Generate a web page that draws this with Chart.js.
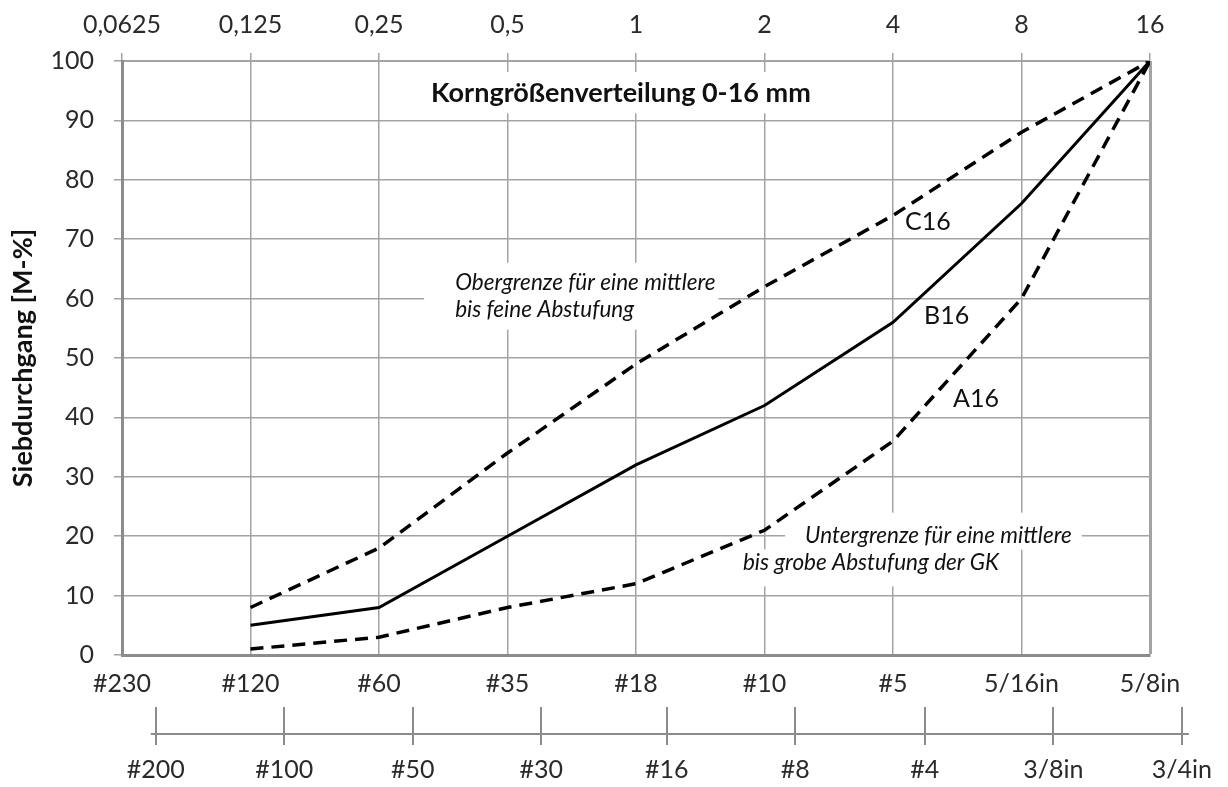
<!DOCTYPE html>
<html>
<head>
<meta charset="utf-8">
<script src="https://cdn.jsdelivr.net/npm/chart.js@4.4.0/dist/chart.umd.min.js"></script>
<style>
  body { margin: 0; background: #fff; }
</style>
</head>
<body>
<canvas id="sieveChart" width="1228" height="787"></canvas>
<script>
// sieve openings in mm (top axis) and the matching mesh names (first bottom row)
const mmTicks = [0.0625, 0.125, 0.25, 0.5, 1, 2, 4, 8, 16];
const mmLabels = ['0,0625', '0,125', '0,25', '0,5', '1', '2', '4', '8', '16'];
const meshLabels = ['#230', '#120', '#60', '#35', '#18', '#10', '#5', '5/16in', '5/8in'];

// ASTM sieves for the second bottom row
const astmMm = [0.075, 0.15, 0.3, 0.6, 1.18, 2.36, 4.75, 9.5, 19];
const astmLabels = ['#200', '#100', '#50', '#30', '#16', '#8', '#4', '3/8in', '3/4in'];

// grading curves (passing in M-%)
const sieves = [0.125, 0.25, 0.5, 1, 2, 4, 8, 16];
const a16 = [1, 3, 8, 12, 21, 36, 60, 100];
const b16 = [5, 8, 20, 32, 42, 56, 76, 100];
const c16 = [8, 18, 34, 49, 62, 74, 88, 100];

const gridGray = '#a3a3a3';
const axisGray = '#8c8c8c';
const textGray = '#2a2a2a';

Chart.defaults.font.family = 'Lato';

// text notes, placed in data units (mm / %)
const notes = [
  { lines: ['Korngrößenverteilung 0-16 mm'], x: 0.922, y: 94.6, style: 'bold', size: 27, align: 'center', pad: [8, 8, 5, 4] },
  { lines: ['Obergrenze für eine mittlere', 'bis feine Abstufung'], x: 0.377, y: 62.6, style: 'italic', size: 22.5, align: 'left', gap: 27, pad: [31, 3, 7, 6] },
  { lines: ['Untergrenze für eine mittlere'], x: 2.49, y: 20.0, style: 'italic', size: 22.5, align: 'left', pad: [20, 10, 10, 0] },
  { lines: ['bis grobe Abstufung der GK'], x: 1.78, y: 15.5, style: 'italic', size: 22.5, align: 'left', pad: [8, 5, 0, 10] },
  { lines: ['C16'], x: 4.27, y: 72.9, style: '', size: 25, align: 'left' },
  { lines: ['B16'], x: 4.73, y: 57.1, style: '', size: 25, align: 'left' },
  { lines: ['A16'], x: 5.53, y: 43.1, style: '', size: 25, align: 'left' }
];

const notesPlugin = {
  id: 'notes',
  beforeDatasetsDraw(chart) {
    const { ctx, scales: { x, y } } = chart;
    notes.forEach(n => {
      ctx.save();
      ctx.font = `${n.style} ${n.size}px Lato`;
      const lh = n.size * 1.2;
      const gap = n.gap || lh;
      const px = x.getPixelForValue(n.x);
      const py = y.getPixelForValue(n.y);
      const w = Math.max(...n.lines.map(l => ctx.measureText(l).width));
      const left = n.align === 'center' ? px - w / 2 : px;
      if (n.pad) {
        const [pl, pr, pt, pb] = n.pad;
        ctx.fillStyle = '#fff';
        ctx.fillRect(left - pl, py - lh / 2 - pt, w + pl + pr, (n.lines.length - 1) * gap + lh + pt + pb);
      }
      ctx.fillStyle = '#111';
      ctx.textAlign = n.align;
      ctx.textBaseline = 'middle';
      n.lines.forEach((l, i) => ctx.fillText(l, px, py + i * gap));
      ctx.restore();
    });
  }
};

// axis line of the ASTM row, crossing its tick marks
const astmLinePlugin = {
  id: 'astmLine',
  afterDraw(chart) {
    const s = chart.scales.x2;
    const ctx = chart.ctx;
    const yy = s.top + 27;
    ctx.save();
    ctx.strokeStyle = axisGray;
    ctx.lineWidth = 2;
    ctx.beginPath();
    ctx.moveTo(s.getPixelForValue(astmMm[0]) - 5, yy);
    ctx.lineTo(s.getPixelForValue(astmMm[astmMm.length - 1]) + 7, yy);
    ctx.stroke();
    ctx.restore();
  }
};

const curve = (vals) => sieves.map((s, i) => ({ x: s, y: vals[i] }));
const lineStyle = { borderColor: '#000', borderWidth: 3, pointRadius: 0, fill: false, tension: 0, borderCapStyle: 'butt' };

new Chart(document.getElementById('sieveChart'), {
  type: 'line',
  data: {
    datasets: [
      { label: 'A16', data: curve(a16), ...lineStyle, borderWidth: 3.5, borderDash: [13, 8] },
      { label: 'B16', data: curve(b16), ...lineStyle },
      { label: 'C16', data: curve(c16), ...lineStyle, borderWidth: 3.5, borderDash: [13, 8] }
    ]
  },
  options: {
    responsive: false,
    animation: false,
    layout: { padding: { left: 0, right: 78, top: 0, bottom: 0 } },
    plugins: { legend: { display: false }, tooltip: { enabled: false } },
    scales: {
      x: {
        type: 'logarithmic', position: 'bottom', min: 0.0625, max: 16, bounds: 'data',
        afterBuildTicks: s => { s.ticks = mmTicks.map(v => ({ value: v })); },
        afterFit: s => { s.height = 52; },
        ticks: { autoSkip: false, maxRotation: 0, minRotation: 0, padding: 14, color: textGray, font: { size: 25 },
                 callback: (v, i) => meshLabels[i] },
        grid: { color: gridGray, lineWidth: c => c.index === mmTicks.length - 1 ? 3 : 1.5, drawTicks: false },
        border: { color: axisGray, width: 3 }
      },
      xTop: {
        type: 'logarithmic', position: 'top', min: 0.0625, max: 16, bounds: 'data',
        afterBuildTicks: s => { s.ticks = mmTicks.map(v => ({ value: v })); },
        afterFit: s => { s.height = 61; },
        ticks: { autoSkip: false, maxRotation: 0, minRotation: 0, padding: 13, color: textGray, font: { size: 25 },
                 callback: (v, i) => mmLabels[i] },
        grid: { drawOnChartArea: false, tickLength: 8, color: gridGray, lineWidth: 1.5 },
        border: { color: gridGray, width: 2 }
      },
      x2: {
        type: 'logarithmic', position: 'bottom', weight: 1, min: 0.0625, max: 16, bounds: 'data',
        afterBuildTicks: s => { s.ticks = astmMm.map(v => ({ value: v })); },
        afterFit: s => { s.height = 80; },
        ticks: { autoSkip: false, maxRotation: 0, minRotation: 0, padding: 10, color: textGray, font: { size: 25 },
                 callback: (v, i) => astmLabels[i] },
        grid: { drawOnChartArea: false, tickLength: 38, color: axisGray, lineWidth: 2 },
        border: { display: false }
      },
      y: {
        min: 0, max: 100,
        afterFit: s => { s.width = 122; },
        ticks: { stepSize: 10, padding: 20, color: textGray, font: { size: 25 } },
        grid: { color: gridGray, lineWidth: 1.5, tickLength: 8 },
        border: { color: axisGray, width: 3 },
        title: { display: true, text: 'Siebdurchgang [M-%]', color: '#111',
                 font: { size: 27, weight: 'bold' }, padding: { top: 7, bottom: 0 } }
      }
    }
  },
  plugins: [notesPlugin, astmLinePlugin]
});
</script>
</body>
</html>
